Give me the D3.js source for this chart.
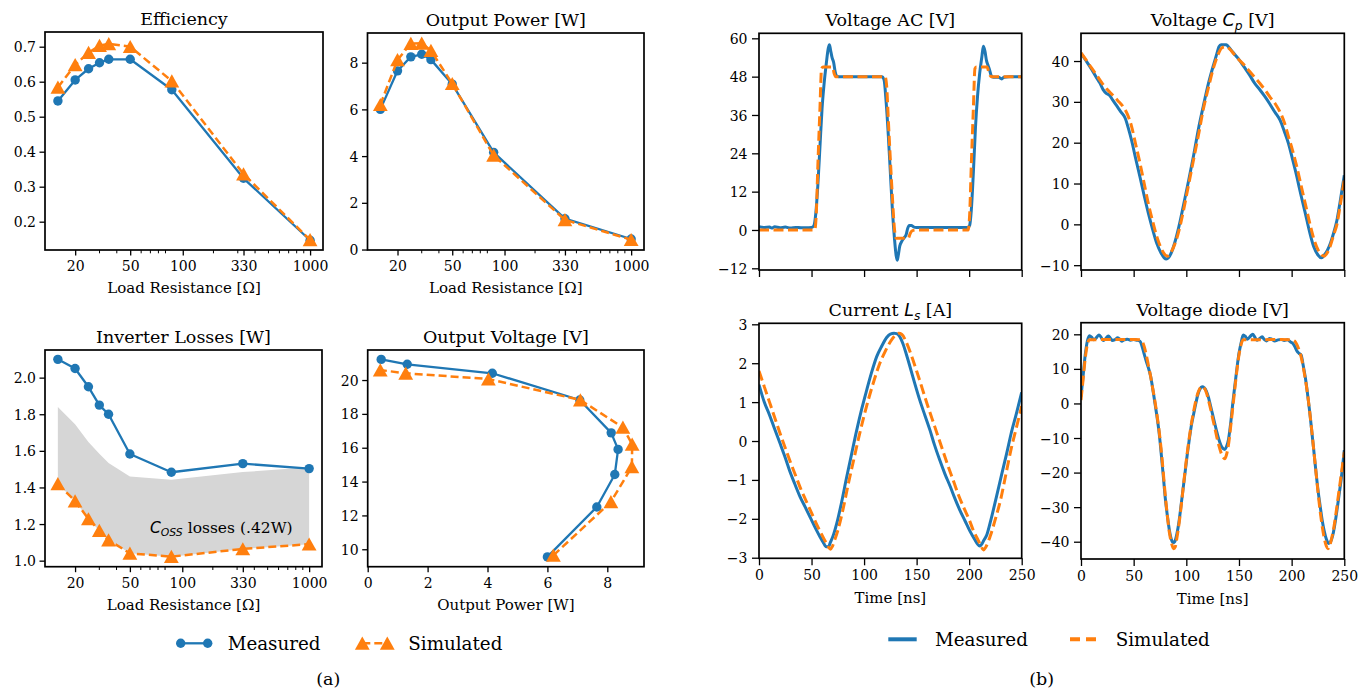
<!DOCTYPE html>
<html>
<head>
<meta charset="utf-8">
<script src="https://cdn.jsdelivr.net/npm/d3@7"></script>
<style>
  body { margin: 0; background: #fff; }
  svg text { font-family: "DejaVu Serif", serif; fill: #000; }
</style>
</head>
<body>
<svg id="fig" width="1372" height="691"></svg>
<script>
// ---------- load sweep (panel a) ----------
const loadR       = [15, 20, 25, 30, 35, 50, 100, 330, 1000];
const effMeas     = [0.545, 0.605, 0.637, 0.654, 0.664, 0.664, 0.577, 0.324, 0.147];
const effSim      = [0.584, 0.648, 0.683, 0.703, 0.708, 0.700, 0.602, 0.336, 0.148];
const powerMeas   = [6.00, 7.65, 8.25, 8.36, 8.13, 7.08, 4.16, 1.32, 0.45];
const powerSim    = [6.20, 8.12, 8.82, 8.83, 8.52, 7.10, 4.03, 1.27, 0.42];
const lossMeas    = [2.10, 2.05, 1.95, 1.85, 1.80, 1.583, 1.483, 1.53, 1.503];
const lossSim     = [1.42, 1.326, 1.228, 1.164, 1.113, 1.04, 1.022, 1.064, 1.09];
const cossLoss    = 0.42;
const voutMeas    = [9.55, 12.5, 14.42, 15.9, 16.88, 18.82, 20.4, 20.93, 21.22];
const voutSim     = [9.64, 12.8, 14.87, 16.2, 17.2, 18.82, 20.06, 20.4, 20.59];

// resistance axis: tick positions and their printed labels
const rTickValues = [20, 50, 120, 330, 1000];
const rTickLabels = ["20", "50", "100", "330", "1000"];
const rMinorTicks = [30, 40, 60, 70, 80, 90, 200, 300, 400, 500, 600, 700, 800, 900];

// ---------- time-domain waveforms (panel b) ----------
const timeTicks = [0, 50, 100, 150, 200, 250];

const acMeasT = [0,5,10,12,15,20,25,30,35,40,45,50,52,54,56,58,60,62,64,66,67,68,69.5,71,72.5,74,76,80,90,100,110,117,119,121,123,125,127,129,130.5,131.5,132.5,134,136,138,140,141.5,143,145,147,150,160,170,180,190,199,200.5,202,204,206,208,210,212,213.5,215,216.5,218,219.5,221,223,228,231,233,238,250];
const acMeasV = [1.0,0.8,0.9,0.6,1.0,0.7,0.9,0.6,0.8,0.7,0.7,0.8,1.2,5,14,26,38,46,52,57,58,56.5,54,52.5,49.5,48.2,48,48,48,48,48,48,47,40,30,18,6,-3,-8,-9.5,-8,-5,-3.5,-2.5,-1.5,0.5,1.4,1.4,1.0,0.8,0.8,0.8,0.8,0.8,0.8,1.5,6,18,32,42,49,54,57.5,56,53,51.5,50,48.3,47.8,47.8,47.3,47.8,48,48];
const acSimT = [0,53,54.5,56,58,59.5,61,70,71.5,73,120,121.5,123,125,127,129,130.5,142,144,146,150,199,200.5,202,204,205.5,207,217,219,221,250];
const acSimV = [0,0,5,20,38,50.5,51,51,49,48,48,45,35,22,10,0,-2.6,-2.6,-1,-0.2,0,0,5,20,38,50.5,51,51,49,48,48];

const cpMeasT = [0,5,10,15,18,21,24,27,30,34,38,42,45,48,52,56,60,64,68,72,76,79,81,83,86,89,93,97,102,107,112,116,121,126,129,131,133,138,140,144,149,155,160,165,170,174,179,184,189,193,197,201,205,209,213,217,221,225,228.5,231,234,237,240,243,246,250];
const cpMeasV = [41.9,40,38,35.8,34.6,33,32.1,31.6,30.5,29,27.5,26,23.5,20.6,16,11.6,7,2.7,-1.2,-4.7,-7,-8.2,-8.5,-8.2,-6.8,-4.5,-0.5,4.3,10.5,17,24,28.8,34.5,39.2,41.8,43.5,44,44,43.5,42.2,40.7,38.5,36.6,34.5,32.9,31.5,29.6,27.5,25.5,22.8,19.8,15.8,11.6,7,2.7,-1.8,-5.5,-7.5,-8.2,-7.5,-6.3,-4.5,-2,1,5.5,12];
const cpSimT = [0,5,10,15,20,25,30,35,40,44,48,52,56,60,64,68,72,76,80,82,84,88,92,97,102,107,112,116,121,126,130,134,138,141,145,150,155,160,165,170,175,180,185,189,193,197,201,205,209,213,217,221,225,229,231,233,236,240,243,246,250];
const cpSimV = [42,40.2,38.3,36.5,34.6,33,31.7,30.3,28.8,27,24,19.5,15,10,5,0.8,-3,-5.8,-7.5,-7.8,-7.4,-5.5,-2.5,3,9.5,16,22.5,28,33.5,38.5,41.5,43.3,43.5,43,41.8,40.3,39,37.5,36,34.5,32.8,31,29.3,27.5,25,21.5,18,14,9.5,5,0.5,-3.5,-6.2,-7.6,-7.8,-7.3,-5.8,-2.5,0,4.5,11];

const lsMeasT = [0,5,10,15,20,25,29.5,34,39,44,48.5,53,58,61,64,66,68,71,74,78,83.5,88,93,98,102.5,107,112,117,121.5,125,128.5,131,134,137,140,143.7,148,153,158,162.7,167,172,177,182,186,191,196,201,205,208,210,212,214,216.7,220,226,231,235.7,240,245,250];
const lsMeasV = [1.45,1.0,0.67,0.3,-0.06,-0.43,-0.79,-1.1,-1.43,-1.7,-1.95,-2.2,-2.46,-2.6,-2.72,-2.72,-2.6,-2.4,-2.12,-1.65,-0.92,-0.35,0.28,0.85,1.31,1.75,2.17,2.45,2.66,2.75,2.77,2.76,2.68,2.5,2.25,1.91,1.5,1.05,0.65,0.28,-0.1,-0.49,-0.85,-1.17,-1.45,-1.77,-2.05,-2.33,-2.52,-2.65,-2.7,-2.65,-2.55,-2.42,-2.1,-1.43,-0.85,-0.32,0.2,0.71,1.25];
const lsSimT = [0,5,10,15,20,25,30,35,40,45,50,55,60,64,68,70,72,75,80,85,90,95,100,105,110,115,120,125,129,133,136,140,145,150,155,160,165,170,175,180,185,190,195,200,204,208,211,213.5,216,220,225,230,235,240,245,250];
const lsSimV = [1.8,1.4,1.0,0.6,0.2,-0.18,-0.55,-0.9,-1.25,-1.55,-1.85,-2.15,-2.42,-2.62,-2.78,-2.7,-2.55,-2.3,-1.75,-1.1,-0.5,0.1,0.65,1.15,1.6,2.0,2.3,2.55,2.7,2.77,2.74,2.55,2.2,1.8,1.38,0.95,0.55,0.15,-0.25,-0.65,-1.02,-1.4,-1.72,-2.02,-2.3,-2.52,-2.68,-2.8,-2.72,-2.45,-2.0,-1.5,-0.85,-0.2,0.35,0.9];

const dMeasT = [0,2,4,6,8,10,12,14,17,19,21,23,26,28,30,32,35,37,39,41,44,47,50,53,56,58,60,62,64,66,68,70,72,74,76,78,80,82,84,86,87.7,89,91,93,95,97,99,101,103,105,107,109,111,113,115,117,119,121,123,125,127,129,131,133,135,136.5,138,140,142,144,146,148,150,152,154,156,158,161,163,165,167,169,172,174,176,179,181,184,187,190,193,196,199,201,203,205,207,209,211,213,215,217,219,221,223,225,227,229,231,233,235,237,239,241,243,245,247,249,250];
const dMeasV = [2,8,14,18,19.6,19.2,18.4,18.8,19.8,19.2,18.2,18.6,19.5,18.8,18.2,18.4,19.0,18.5,18.0,18.4,18.6,18.3,18.5,18.3,18,16.5,14.3,12.2,10.3,8,4.5,0.5,-3.5,-8,-14,-20.5,-27.3,-32.5,-36.8,-39.5,-40.3,-40,-37.8,-34.3,-29.5,-24.5,-19.5,-14.5,-10,-6,-3,0,2.6,4.2,4.8,4.5,3.6,1.8,-0.7,-3.2,-5.8,-8.3,-10.5,-12.2,-13.1,-13.3,-12.6,-10.5,-6,-0.3,5,10,14.5,17.5,19.8,19.4,18.6,19.5,20,19.2,18.3,18.6,19.3,18.5,18.1,18.8,18.6,18.1,18.4,18.5,18.2,18.4,17.8,17.4,16.5,15.2,14.5,14,11,7.5,3,-2,-7.7,-13.5,-19.5,-25,-29.5,-33.8,-37,-39.3,-40.5,-40,-38.2,-35,-31,-26.5,-22,-16.5,-13.5];
const dSimT = [0,2,4,6,8,10,20,30,40,50,56,58,60,62,64,66,68,70,72,74,76,78,80,82,84,86,88,89.5,91,93,95,97,99,101,103,105,107,109,111,113,115,117,119,121,123,125,127,129,131,133,135,136.5,138,140,142,144,146,148,150,152,154,160,170,180,190,200,203,205,207,209,211,213,215,217,219,221,223,225,227,229,231,233,234.5,236,238,240,242,244,246,248,250];
const dSimV = [1,7,13,17,18.4,18.4,18.5,18.5,18.5,18.5,18.4,18,16.5,14,11,8,4.5,1,-3,-7.5,-13,-19.5,-26.5,-32.5,-37.5,-40.5,-42,-41.5,-39,-35,-30,-24.5,-19,-14,-9.5,-5.5,-2.2,0.8,3,4.4,4.9,4.5,3.2,1,-1.5,-4.3,-7,-9.8,-12.3,-14.3,-15.6,-16,-15,-12,-7,-1.5,4,9.5,14,17,18.4,18.4,18.4,18.5,18.5,18.4,18,17,15.5,13.5,10.5,7,3,-2,-7.5,-13.5,-19.5,-25.5,-31,-35.5,-39,-41.3,-42,-41.3,-39,-36,-32,-27.5,-23,-18.5,-14];

// ---------- drawing ----------
const BLUE = "#1f77b4", ORANGE = "#ff7f0e";
const SERIF = '"DejaVu Serif", serif';
const svg = d3.select("#fig");
let clipCount = 0;

function zip(xs, ys) { return xs.map((x, i) => [x, ys[i]]); }

function subText(sel, parts, size) {
  // parts: [text, kind] where kind is "n" (normal), "m" (math italic), "s" (math italic subscript)
  const shift = size * 0.22;
  let base = 0;
  parts.forEach(([str, kind]) => {
    const t = sel.append("tspan").text(str);
    if (kind !== "n") t.style("font-family", '"DejaVu Sans", sans-serif').style("font-style", "italic");
    if (kind === "s") {
      t.style("font-size", (size * 0.7) + "px").attr("dy", shift - base);
      base = shift;
    } else if (base !== 0) {
      t.attr("dy", -base);
      base = 0;
    }
  });
}

function axesFrame(o) {
  const { box, x, y } = o;
  const g = svg.append("g");
  const cid = "clip" + (clipCount++);
  svg.append("clipPath").attr("id", cid).append("rect")
    .attr("x", box.l).attr("y", box.t).attr("width", box.r - box.l).attr("height", box.b - box.t);
  const plot = g.append("g").attr("clip-path", o.clip ? `url(#${cid})` : null);

  const xa = d3.axisBottom(x).tickValues(o.xTicks).tickSize(o.tick).tickPadding(o.xPad)
    .tickFormat((d, i) => o.xLabels ? o.xLabels(d, i) : "");
  const gx = g.append("g").attr("transform", `translate(0,${box.b})`).call(xa);
  const ya = d3.axisLeft(y).tickValues(o.yTicks).tickSize(o.tick).tickPadding(o.yPad)
    .tickFormat(o.yFormat);
  const gy = g.append("g").attr("transform", `translate(${box.l},0)`).call(ya);
  [gx, gy].forEach(a => {
    a.select(".domain").remove();
    a.attr("font-family", null).attr("font-size", null);
    a.selectAll("line").attr("stroke", "#000").attr("stroke-width", 1.3);
    a.selectAll("text").style("font-family", SERIF).style("font-size", "14px").attr("fill", "#000");
  });
  gy.selectAll("text").attr("dy", "0.36em");
  if (o.minor) {
    g.append("g").selectAll("line").data(o.minor).join("line")
      .attr("x1", d => x(d)).attr("x2", d => x(d))
      .attr("y1", box.b).attr("y2", box.b + o.tick * 0.6)
      .attr("stroke", "#000").attr("stroke-width", 1);
  }
  const title = g.append("text").attr("x", (box.l + box.r) / 2).attr("y", box.t - 7)
    .attr("text-anchor", "middle").style("font-size", "17.5px");
  subText(title, o.title, 17.5);
  if (o.xLabel) {
    g.append("text").attr("x", (box.l + box.r) / 2).attr("y", box.b + o.xLabelOff)
      .attr("text-anchor", "middle").style("font-size", "15px").text(o.xLabel);
  }
  const border = () => g.append("rect").attr("x", box.l).attr("y", box.t)
    .attr("width", box.r - box.l).attr("height", box.b - box.t)
    .attr("fill", "none").attr("stroke", "#000").attr("stroke-width", 1.7);
  return { g, plot, border };
}

const triPath = "M0,-6.8L7.4,6.4L-7.4,6.4Z";

function markerSeries(plot, pts, x, y, kind) {
  const line = d3.line().x(d => x(d[0])).y(d => y(d[1]));
  if (kind === "meas") {
    plot.append("path").attr("d", line(pts)).attr("fill", "none")
      .attr("stroke", BLUE).attr("stroke-width", 2.3).attr("stroke-linejoin", "round");
    plot.append("g").selectAll("circle").data(pts).join("circle")
      .attr("cx", d => x(d[0])).attr("cy", d => y(d[1])).attr("r", 4.7).attr("fill", BLUE);
  } else {
    plot.append("path").attr("d", line(pts)).attr("fill", "none")
      .attr("stroke", ORANGE).attr("stroke-width", 2.5).attr("stroke-dasharray", "8,4");
    plot.append("g").selectAll("path").data(pts).join("path")
      .attr("d", triPath).attr("fill", ORANGE)
      .attr("transform", d => `translate(${x(d[0])},${y(d[1])})`);
  }
}

const fmt1 = d3.format(".1f"), fmt0 = d3.format("d");
const rLabel = (d, i) => rTickLabels[i];
const leftCommon = { tick: 5.5, xPad: 6, yPad: 3.5, minor: rMinorTicks, xLabelOff: 43 };

// Efficiency
(function () {
  const box = { l: 45, r: 323, t: 32, b: 250 };
  const x = d3.scaleLog().domain([12.1, 1240]).range([box.l, box.r]);
  const y = d3.scaleLinear().domain([0.1191, 0.742]).range([box.b, box.t]);
  const a = axesFrame({ ...leftCommon, box, x, y, xTicks: rTickValues, xLabels: rLabel,
    yTicks: [0.2, 0.3, 0.4, 0.5, 0.6, 0.7], yFormat: fmt1,
    title: [["Efficiency", "n"]], xLabel: "Load Resistance [Ω]" });
  markerSeries(a.plot, zip(loadR, effMeas), x, y, "meas");
  markerSeries(a.plot, zip(loadR, effSim), x, y, "sim");
  a.border();
})();

// Output power
(function () {
  const box = { l: 367.5, r: 644, t: 33, b: 250 };
  const x = d3.scaleLog().domain([12.1, 1240]).range([box.l, box.r]);
  const y = d3.scaleLinear().domain([-0.02, 9.27]).range([box.b, box.t]);
  const a = axesFrame({ ...leftCommon, box, x, y, xTicks: rTickValues, xLabels: rLabel,
    yTicks: [0, 2, 4, 6, 8], yFormat: fmt0,
    title: [["Output Power [W]", "n"]], xLabel: "Load Resistance [Ω]" });
  markerSeries(a.plot, zip(loadR, powerMeas), x, y, "meas");
  markerSeries(a.plot, zip(loadR, powerSim), x, y, "sim");
  a.border();
})();

// Inverter losses with the C_oss band
(function () {
  const box = { l: 45, r: 322, t: 350, b: 566.7 };
  const x = d3.scaleLog().domain([12.1, 1240]).range([box.l, box.r]);
  const y = d3.scaleLinear().domain([0.967, 2.151]).range([box.b, box.t]);
  const a = axesFrame({ ...leftCommon, box, x, y, xTicks: rTickValues, xLabels: rLabel,
    yTicks: [1.0, 1.2, 1.4, 1.6, 1.8, 2.0], yFormat: fmt1,
    title: [["Inverter Losses [W]", "n"]], xLabel: "Load Resistance [Ω]" });
  const band = loadR.map((r, i) => ({ r, lo: lossSim[i], hi: lossSim[i] + cossLoss }));
  a.plot.append("path")
    .attr("d", d3.area().x(d => x(d.r)).y0(d => y(d.lo)).y1(d => y(d.hi))(band))
    .attr("fill", "#d6d6d6");
  const lbl = a.plot.append("text").attr("x", 150).attr("y", 532.5).style("font-size", "15.5px");
  subText(lbl, [["C", "m"], ["OSS", "s"], [" losses (.42W)", "n"]], 15.5);
  markerSeries(a.plot, zip(loadR, lossMeas), x, y, "meas");
  markerSeries(a.plot, zip(loadR, lossSim), x, y, "sim");
  a.border();
})();

// Output voltage vs output power
(function () {
  const box = { l: 367.7, r: 644, t: 350, b: 566.7 };
  const x = d3.scaleLinear().domain([0, 9.225]).range([box.l, box.r]);
  const y = d3.scaleLinear().domain([8.97, 21.775]).range([box.b, box.t]);
  const a = axesFrame({ tick: 5.5, xPad: 6, yPad: 3.5, xLabelOff: 43, box, x, y,
    xTicks: [0, 2, 4, 6, 8], xLabels: d => fmt0(d),
    yTicks: [10, 12, 14, 16, 18, 20], yFormat: fmt0,
    title: [["Output Voltage [V]", "n"]], xLabel: "Output Power [W]" });
  markerSeries(a.plot, zip(powerMeas, voutMeas), x, y, "meas");
  markerSeries(a.plot, zip(powerSim, voutSim), x, y, "sim");
  a.border();
})();

// Waveform panels
function wave(o) {
  const x = d3.scaleLinear().domain([0, 250]).range([o.box.l, o.box.r]);
  const y = d3.scaleLinear().domain(o.yDomain).range([o.box.b, o.box.t]);
  const a = axesFrame({ tick: 7, xPad: 5, yPad: 4.5, xLabelOff: 45, box: o.box, x, y, clip: true,
    xTicks: timeTicks, xLabels: o.showX ? (d => fmt0(d)) : null,
    yTicks: o.yTicks, yFormat: fmt0, title: o.title, xLabel: o.showX ? "Time [ns]" : null });
  const line = d3.line().x(d => x(d[0])).y(d => y(d[1])).curve(d3.curveMonotoneX);
  a.plot.append("path").attr("d", line(zip(o.mT, o.mV))).attr("fill", "none")
    .attr("stroke", BLUE).attr("stroke-width", 3).attr("stroke-linejoin", "round");
  a.plot.append("path").attr("d", line(zip(o.sT, o.sV))).attr("fill", "none")
    .attr("stroke", ORANGE).attr("stroke-width", 3).attr("stroke-dasharray", "10,4.5");
  a.border();
}

wave({ box: { l: 759, r: 1021.7, t: 33.3, b: 270 }, yDomain: [-12.53, 61.57],
  yTicks: [-12, 0, 12, 24, 36, 48, 60], title: [["Voltage AC [V]", "n"]], showX: false,
  mT: acMeasT, mV: acMeasV, sT: acSimT, sV: acSimV });
wave({ box: { l: 1081, r: 1344.3, t: 33.3, b: 270 }, yDomain: [-11.18, 46.79],
  yTicks: [-10, 0, 10, 20, 30, 40], title: [["Voltage ", "n"], ["C", "m"], ["p", "s"], [" [V]", "n"]], showX: false,
  mT: cpMeasT, mV: cpMeasV, sT: cpSimT, sV: cpSimV });
wave({ box: { l: 759, r: 1021.7, t: 323.3, b: 558.3 }, yDomain: [-3.015, 3.026],
  yTicks: [-3, -2, -1, 0, 1, 2, 3], title: [["Current ", "n"], ["L", "m"], ["s", "s"], [" [A]", "n"]], showX: true,
  mT: lsMeasT, mV: lsMeasV, sT: lsSimT, sV: lsSimV });
wave({ box: { l: 1081, r: 1344.3, t: 322.7, b: 559 }, yDomain: [-45.0, 23.36],
  yTicks: [-40, -30, -20, -10, 0, 10, 20], title: [["Voltage diode [V]", "n"]], showX: true,
  mT: dMeasT, mV: dMeasV, sT: dSimT, sV: dSimV });

// ---------- legends and captions ----------
const leg = svg.append("g");
// (a) legend: markers with lines
leg.append("line").attr("x1", 180.7).attr("x2", 207.7).attr("y1", 643.3).attr("y2", 643.3)
  .attr("stroke", BLUE).attr("stroke-width", 2.3);
[180.7, 207.7].forEach(cx => leg.append("circle").attr("cx", cx).attr("cy", 643.3).attr("r", 4.7).attr("fill", BLUE));
leg.append("text").attr("x", 227.7).attr("y", 649.6).style("font-size", "18.3px").text("Measured");
leg.append("line").attr("x1", 362.3).attr("x2", 387.3).attr("y1", 643.3).attr("y2", 643.3)
  .attr("stroke", ORANGE).attr("stroke-width", 2.5).attr("stroke-dasharray", "8,4");
[362.3, 387.3].forEach(cx => leg.append("path").attr("d", triPath).attr("fill", ORANGE)
  .attr("transform", `translate(${cx},643.3)`));
leg.append("text").attr("x", 408.3).attr("y", 649.6).style("font-size", "18.3px").text("Simulated");
leg.append("text").attr("x", 328.3).attr("y", 685).attr("text-anchor", "middle").style("font-size", "17.5px").text("(a)");

// (b) legend: lines only
leg.append("line").attr("x1", 888.3).attr("x2", 916.7).attr("y1", 639.3).attr("y2", 639.3)
  .attr("stroke", BLUE).attr("stroke-width", 4);
leg.append("text").attr("x", 935).attr("y", 645.6).style("font-size", "18.3px").text("Measured");
leg.append("line").attr("x1", 1070).attr("x2", 1096).attr("y1", 639.3).attr("y2", 639.3)
  .attr("stroke", ORANGE).attr("stroke-width", 4).attr("stroke-dasharray", "10,6");
leg.append("text").attr("x", 1115.7).attr("y", 645.6).style("font-size", "18.3px").text("Simulated");
leg.append("text").attr("x", 1041.7).attr("y", 685).attr("text-anchor", "middle").style("font-size", "17.5px").text("(b)");
</script>
</body>
</html>
